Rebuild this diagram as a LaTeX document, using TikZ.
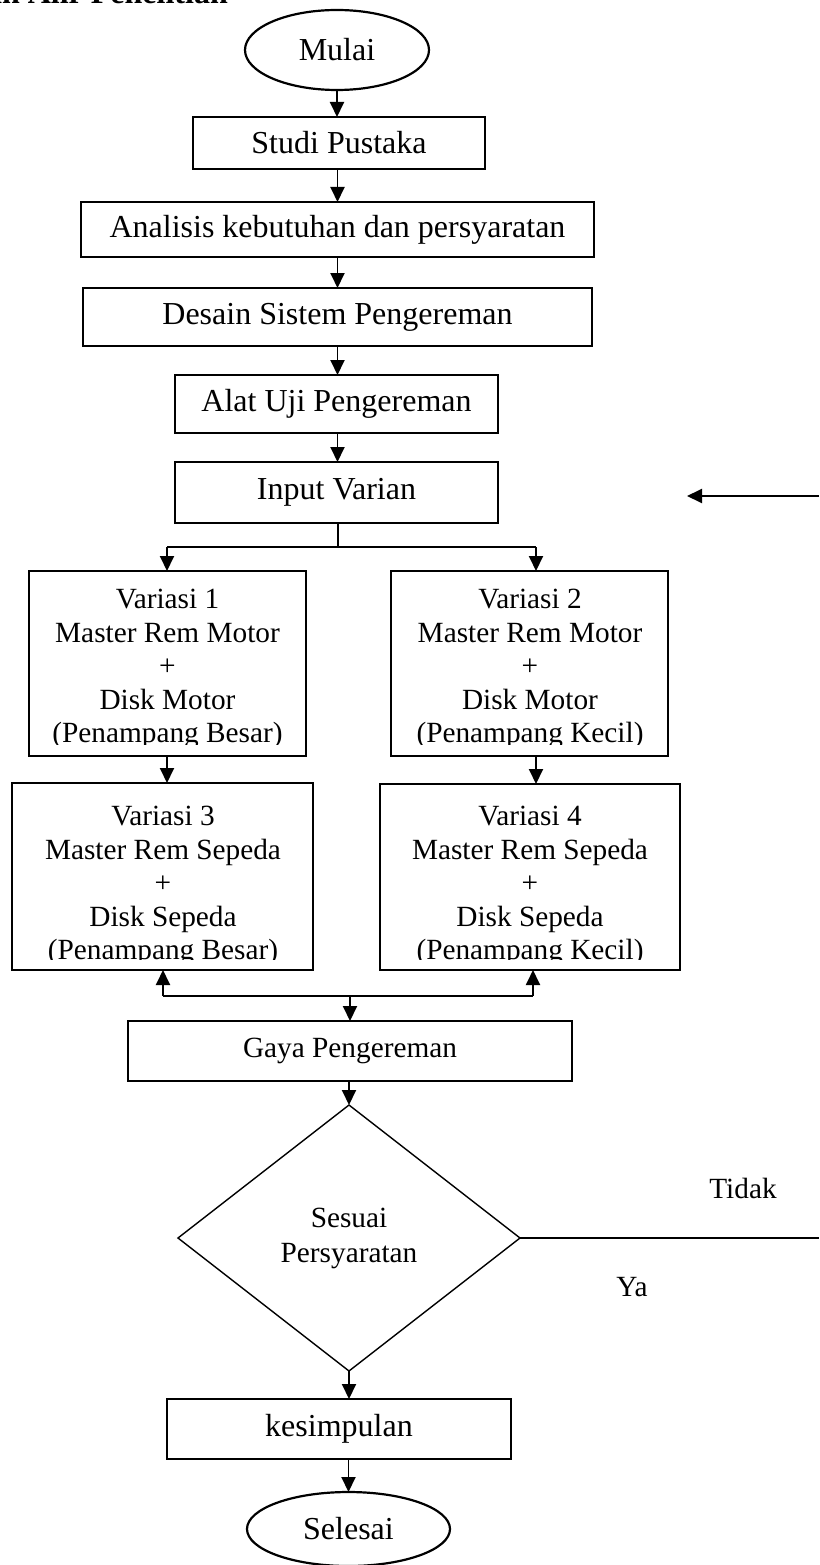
\documentclass[tikz,border=0pt]{standalone}
\usepackage{fontspec}
\setmainfont{Liberation Serif}
\usetikzlibrary{shapes.geometric,arrows.meta}
\begin{document}
\begin{tikzpicture}[x=1pt,y=-1pt,
  box/.style={draw,line width=2.2pt,rectangle,inner sep=0pt,outer sep=0pt,font=\fontsize{32}{38}\selectfont},
  vbox/.style={draw,line width=2.2pt,rectangle,inner sep=0pt,outer sep=0pt},
  vtext/.style={align=center,inner sep=0pt,outer sep=0pt,font=\fontsize{29.3}{33.5}\selectfont},
  term/.style={draw,ellipse,line width=2.2pt,inner sep=0pt,outer sep=0pt,font=\fontsize{32}{38}\selectfont},
  dec/.style={draw,diamond,line width=1.4pt,inner sep=0pt,outer sep=0pt,align=center,font=\fontsize{29.3}{35}\selectfont},
  arr/.style={line width=1.9pt,-{Triangle[length=15pt,width=14pt]}},
  ln/.style={line width=1.9pt},
  thinln/.style={line width=1.4pt},
  lbl/.style={font=\fontsize{29.3}{35}\selectfont,inner sep=0pt,outer sep=0pt}]
\useasboundingbox (0,0) rectangle (819,1565);
\clip (0,0) rectangle (819,1565);
% heading (cut off at top of page, as in the reference)
\node[anchor=base east,inner sep=0pt,font=\bfseries\fontsize{32}{38}\selectfont] (judul) at (228,4) {an Alir Penelitian};
% main column
\node[term,minimum width=184pt,minimum height=80pt] (mulai) at (337,50) {Mulai};
\node[box,minimum width=292pt,minimum height=52pt] (studi) at (339,143) {Studi Pustaka};
\node[box,minimum width=513pt,minimum height=55pt] (anal) at (337.5,229.5) {Analisis kebutuhan dan persyaratan};
\node[box,minimum width=509pt,minimum height=58pt] (desain) at (337.5,317) {Desain Sistem Pengereman};
\node[box,minimum width=323pt,minimum height=58pt] (alat) at (336.5,404) {Alat Uji Pengereman};
\node[box,minimum width=323pt,minimum height=61pt] (input) at (336.5,492.5) {Input Varian};
\coordinate (col) at (337.5,0);
\draw[arr] (mulai.south) -- (mulai.south |- studi.north);
\draw[arr] (studi.south -| col) -- (anal.north -| col);
\draw[arr] (anal.south -| col) -- (desain.north -| col);
\draw[arr] (desain.south -| col) -- (alat.north -| col);
\draw[arr] (alat.south -| col) -- (input.north -| col);
% incoming arrow from the right
\coordinate (rin) at (819,496);
\coordinate (rtip) at (687,496);
\draw[arr] (rin) -- (rtip);
% split
\coordinate (sp) at (338,547);
\coordinate (spL) at (167,547);
\coordinate (spR) at (536,547);
% variation boxes
\node[vbox,minimum width=277pt,minimum height=185pt] (v1) at (167.5,663.5) {};
\node[vbox,minimum width=277pt,minimum height=185pt] (v2) at (529.5,663.5) {};
\node[vbox,minimum width=301pt,minimum height=187pt] (v3) at (162.5,876.5) {};
\node[vbox,minimum width=300pt,minimum height=186pt] (v4) at (530,877) {};
\begin{scope}
\clip (v1.north west) rectangle ([yshift=12pt]v1.south east);
\node[vtext] (v1t) at (167.5,669) {Variasi 1\\Master Rem Motor\\+\\Disk Motor\\(Penampang Besar)};
\end{scope}
\begin{scope}
\clip (v2.north west) rectangle ([yshift=12pt]v2.south east);
\node[vtext] (v2t) at (530,669) {Variasi 2\\Master Rem Motor\\+\\Disk Motor\\(Penampang Kecil)};
\end{scope}
\begin{scope}
\clip (v3.north west) rectangle ([yshift=11pt]v3.south east);
\node[vtext] (v3t) at (163,886) {Variasi 3\\Master Rem Sepeda\\+\\Disk Sepeda\\(Penampang Besar)};
\end{scope}
\begin{scope}
\clip (v4.north west) rectangle ([yshift=11pt]v4.south east);
\node[vtext] (v4t) at (530,886) {Variasi 4\\Master Rem Sepeda\\+\\Disk Sepeda\\(Penampang Kecil)};
\end{scope}
\draw[ln] (input.south -| sp) -- (sp);
\draw[ln] (spL) -- (spR);
\draw[arr] (spL) -- (spL |- v1.north);
\draw[arr] (spR) -- (spR |- v2.north);
\draw[arr] (v1.south -| spL) -- (spL |- v3.north);
\draw[arr] (v2.south -| spR) -- (spR |- v4.north);
% join
\coordinate (jL) at (163,996);
\coordinate (jR) at (533,996);
\coordinate (jC) at (350,996);
\node[box,font=\fontsize{29.3}{35}\selectfont,minimum width=444pt,minimum height=60pt] (gaya) at (350,1051) {Gaya Pengereman};
\draw[ln] (jL) -- (jR);
\draw[arr] (jL) -- (jL |- v3.south);
\draw[arr] (jR) -- (jR |- v4.south);
\draw[arr] (jC) -- (jC |- gaya.north);
% decision
\node[dec,minimum width=342pt,minimum height=266pt,aspect=1.286] (dia) at (349,1238) {Sesuai\\Persyaratan};
\draw[arr] (gaya.south -| dia.north) -- (dia.north);
\coordinate (redge) at (819,1238);
\draw[thinln] (dia.east) -- (redge);
\node[lbl] (tidak) at (743,1188) {Tidak};
\node[lbl] (ya) at (632,1287) {Ya};
% end
\node[box,minimum width=344pt,minimum height=60pt] (kes) at (339,1429) {kesimpulan};
\node[term,minimum width=203pt,minimum height=74pt] (selesai) at (348.5,1529) {Selesai};
\draw[arr] (dia.south) -- (dia.south |- kes.north);
\draw[arr] (kes.south -| selesai.north) -- (selesai.north);
\end{tikzpicture}
\end{document}
